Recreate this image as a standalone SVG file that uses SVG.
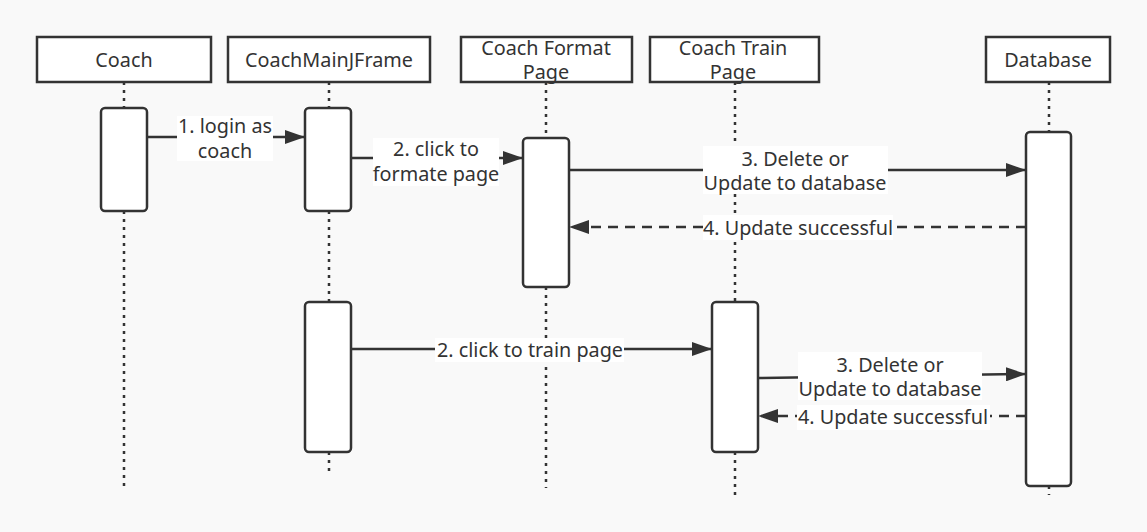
<svg xmlns="http://www.w3.org/2000/svg" width="1147" height="532" viewBox="0 0 1147 532">
<defs>
<marker id="ah" viewBox="0 0 20 14" refX="20" refY="7" markerWidth="20" markerHeight="14" markerUnits="userSpaceOnUse" orient="auto">
<path d="M0,0 L20,7 L0,14 Z" fill="#333"/>
</marker>
</defs>
<style>
.hdr{fill:#fff;stroke:#333;stroke-width:2.5}
.act{fill:#fff;stroke:#333;stroke-width:2.5}
.life{stroke:#333;stroke-width:2.5;stroke-dasharray:3 5;fill:none}
.msg{stroke:#333;stroke-width:2.5;fill:none}
.ret{stroke:#333;stroke-width:2.5;fill:none;stroke-dasharray:10 7}
.lblbg{fill:#fff}
text{font-family:"Noto Sans","Open Sans","Liberation Sans",sans-serif;font-size:19.8px;fill:#333;text-anchor:middle}
</style>
<rect width="1147" height="532" fill="#f9f9f9"/>
<g id="lifelines">
<path class="life" d="M124,82 V108 M124,211 V488"/>
<path class="life" d="M329,82 V108 M329,211 V302 M329,452 V476"/>
<path class="life" d="M546,82 V138 M546,287 V488"/>
<path class="life" d="M735,82 V302 M735,452 V495"/>
<path class="life" d="M1049,82 V132 M1049,486 V495"/>
</g>
<g id="coach">
<rect class="hdr" x="37" y="37" width="174" height="45"/>
<text x="124" y="67">Coach</text>
<rect class="act" x="101" y="108" width="46" height="103" rx="4"/>
</g>
<g id="coachmainjframe">
<rect class="hdr" x="228" y="37" width="202" height="45"/>
<text x="329" y="67">CoachMainJFrame</text>
<rect class="act" x="305" y="108" width="46" height="103" rx="4"/>
<rect class="act" x="305" y="302" width="46" height="150" rx="4"/>
</g>
<g id="coachformatpage">
<rect class="hdr" x="461" y="37" width="171" height="45"/>
<text x="546" y="55">Coach Format</text>
<text x="546" y="79">Page</text>
<rect class="act" x="523" y="138" width="46" height="149" rx="4"/>
</g>
<g id="coachtrainpage">
<rect class="hdr" x="650" y="37" width="169" height="45"/>
<text x="733" y="55">Coach Train</text>
<text x="733" y="79">Page</text>
<rect class="act" x="712" y="302" width="46" height="150" rx="4"/>
</g>
<g id="database">
<rect class="hdr" x="986" y="37" width="124" height="45"/>
<text x="1048" y="67">Database</text>
<rect class="act" x="1026" y="132" width="45" height="354" rx="4"/>
</g>
<g id="connectors">
<line class="msg" x1="147" y1="137" x2="305" y2="137" marker-end="url(#ah)"/>
<rect class="lblbg" x="177" y="116" width="96" height="45"/>
<text x="225" y="133">1. login as</text>
<text x="225" y="158">coach</text>

<line class="msg" x1="351" y1="158" x2="523" y2="158" marker-end="url(#ah)"/>
<rect class="lblbg" x="373" y="138" width="126" height="48"/>
<text x="436" y="156">2. click to</text>
<text x="436" y="181">formate page</text>

<line class="msg" x1="569" y1="170" x2="1026" y2="170" marker-end="url(#ah)"/>
<rect class="lblbg" x="703" y="146" width="185" height="48"/>
<text x="795" y="166">3. Delete or</text>
<text x="795" y="190">Update to database</text>

<line class="ret" x1="1026" y1="227" x2="569" y2="227" marker-end="url(#ah)"/>
<rect class="lblbg" x="703" y="215" width="190" height="25"/>
<text x="798" y="235">4. Update successful</text>

<line class="msg" x1="351" y1="349" x2="712" y2="349" marker-end="url(#ah)"/>
<rect class="lblbg" x="435" y="338" width="189" height="24"/>
<text x="530" y="357">2. click to train page</text>

<line class="msg" x1="758" y1="378" x2="1026" y2="374" marker-end="url(#ah)"/>
<rect class="lblbg" x="798" y="352" width="184" height="48"/>
<text x="890" y="372">3. Delete or</text>
<text x="890" y="396">Update to database</text>

<line class="ret" x1="1026" y1="416" x2="758" y2="416" marker-end="url(#ah)"/>
<rect class="lblbg" x="797" y="405" width="193" height="25"/>
<text x="893" y="424">4. Update successful</text>
</g>
</svg>
